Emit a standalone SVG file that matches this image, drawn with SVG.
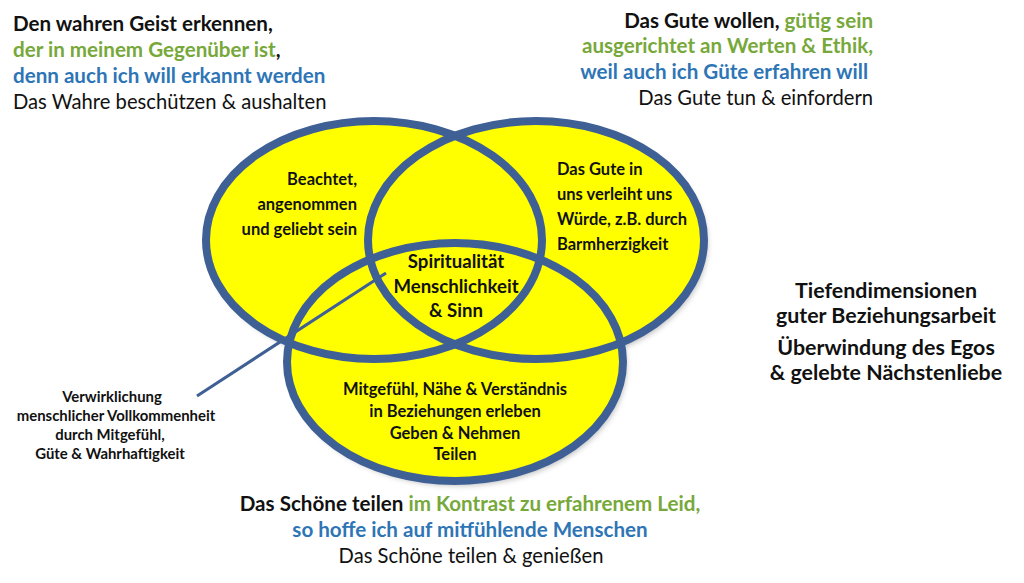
<svg xmlns="http://www.w3.org/2000/svg" width="1024" height="583" viewBox="0 0 1024 583">
<defs>
<style>
text{font-family:Lato,"Liberation Sans",sans-serif;fill:#111}
.b{font-weight:bold}
.g{fill:#77a83a}
.bl{fill:#2e75b6}
.top{font-size:20.6px}
.reg{font-size:20.2px}
.in{font-size:16.5px;font-weight:bold}
.ctr{font-size:18.6px;font-weight:bold}
.side{font-size:21.4px;font-weight:bold}
.lab{font-size:14.9px;font-weight:bold}
.fill{fill:#ffff00;stroke:none}
.ring{fill:none;stroke:#3f6095;stroke-width:8}
.conn{stroke:#3f6095;stroke-width:3;fill:none}
</style>
<filter id="sh" x="-20%" y="-20%" width="140%" height="140%">
<feGaussianBlur stdDeviation="3"/>
</filter>
</defs>
<rect width="1024" height="583" fill="#ffffff"/>

<g id="shadow" filter="url(#sh)" fill="#000" opacity="0.3" transform="translate(3,4)">
<ellipse cx="374" cy="240" rx="168" ry="119"/>
<ellipse cx="536" cy="240" rx="168" ry="119"/>
<ellipse cx="455" cy="362" rx="168" ry="119"/>
</g>

<g id="node-left">
<ellipse class="fill" cx="374" cy="240" rx="168" ry="119"/>
</g>
<g id="node-right">
<ellipse class="fill" cx="536" cy="240" rx="168" ry="119"/>
</g>
<g id="node-bottom">
<ellipse class="fill" cx="455" cy="362" rx="168" ry="119"/>
</g>

<g id="outlines">
<ellipse class="ring" cx="374" cy="240" rx="168" ry="119"/>
<ellipse class="ring" cx="536" cy="240" rx="168" ry="119"/>
<ellipse class="ring" cx="455" cy="362" rx="168" ry="119"/>
</g>

<g id="connectors">
<line class="conn" x1="197" y1="396" x2="386" y2="273"/>
</g>

<g id="label-left-ellipse" class="in" text-anchor="end">
<text x="357" y="185">Beachtet,</text>
<text x="357" y="210">angenommen</text>
<text x="357" y="235">und geliebt sein</text>
</g>

<g id="label-right-ellipse" class="in">
<text x="557" y="175">Das Gute in</text>
<text x="557" y="200">uns verleiht uns</text>
<text x="557" y="225">Würde, z.B. durch</text>
<text x="557" y="250">Barmherzigkeit</text>
</g>

<g id="label-center" class="ctr" text-anchor="middle">
<text x="456" y="268">Spiritualität</text>
<text x="456" y="293">Menschlichkeit</text>
<text x="456" y="317">&amp; Sinn</text>
</g>

<g id="label-bottom-ellipse" class="in" text-anchor="middle">
<text x="455" y="395">Mitgefühl, Nähe &amp; Verständnis</text>
<text x="455" y="417">in Beziehungen erleben</text>
<text x="455" y="439">Geben &amp; Nehmen</text>
<text x="455" y="460">Teilen</text>
</g>

<g id="label-realisation" class="lab" text-anchor="middle">
<text x="112" y="402">Verwirklichung</text>
<text x="116" y="421">menschlicher Vollkommenheit</text>
<text x="110" y="440">durch Mitgefühl,</text>
<text x="110" y="459">Güte &amp; Wahrhaftigkeit</text>
</g>

<g id="text-top-left">
<text x="13" y="31" class="top b">Den wahren Geist erkennen,</text>
<text x="13" y="57" class="top b"><tspan class="g">der in meinem Gegenüber ist</tspan>,</text>
<text x="13" y="83" class="top b bl">denn auch ich will erkannt werden</text>
<text x="13" y="109" class="reg">Das Wahre beschützen &amp; aushalten</text>
</g>

<g id="text-top-right" text-anchor="end">
<text x="873" y="28" class="top b">Das Gute wollen, <tspan class="g">gütig sein</tspan></text>
<text x="873" y="53" class="top b g">ausgerichtet an Werten &amp; Ethik,</text>
<text x="868" y="79" class="top b bl">weil auch ich Güte erfahren will</text>
<text x="873" y="105" class="reg">Das Gute tun &amp; einfordern</text>
</g>

<g id="text-right" class="side" text-anchor="middle">
<text x="886" y="298">Tiefendimensionen</text>
<text x="886" y="323">guter Beziehungsarbeit</text>
<text x="886" y="355">Überwindung des Egos</text>
<text x="886" y="380">&amp; gelebte Nächstenliebe</text>
</g>

<g id="text-bottom" text-anchor="middle">
<text x="470" y="511" class="top b">Das Schöne teilen <tspan class="g">im Kontrast zu erfahrenem Leid,</tspan></text>
<text x="470" y="537" class="top b bl">so hoffe ich auf mitfühlende Menschen</text>
<text x="471" y="563" class="reg">Das Schöne teilen &amp; genießen</text>
</g>
</svg>
